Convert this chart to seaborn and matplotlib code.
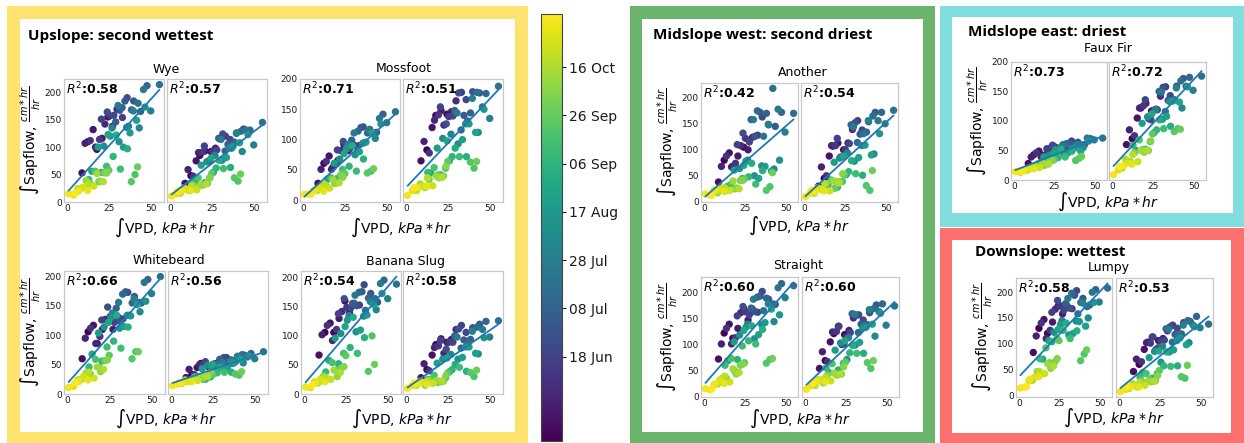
import matplotlib
matplotlib.use("Agg")
import matplotlib.pyplot as plt
import matplotlib.dates as mdates
from matplotlib.colors import Normalize
from matplotlib.cm import ScalarMappable
from matplotlib.patches import Rectangle
import pandas as pd
import seaborn as sns

# ---------------------------------------------------------------- data
YEAR = 2021

# measurement days (month-day)
dates = [
    "05-14", "05-16", "05-19", "05-21", "05-23", "05-26", "05-28", "05-30",
    "06-02", "06-04", "06-06", "06-09", "06-11", "06-13", "06-15", "06-18", "06-20", "06-22", "06-25", "06-27", "06-29",
    "07-02", "07-04", "07-06", "07-09", "07-11", "07-13", "07-16", "07-18", "07-20", "07-23", "07-25", "07-27", "07-30",
    "08-01", "08-03", "08-06", "08-08", "08-10", "08-13", "08-15", "08-17", "08-20", "08-22", "08-24", "08-27", "08-29", "08-31",
    "09-03", "09-05", "09-07", "09-10", "09-12", "09-14", "09-17", "09-19", "09-21", "09-24", "09-26", "09-28",
    "10-01", "10-03", "10-05", "10-08", "10-10", "10-12", "10-15", "10-17", "10-19",
    "10-22", "10-24", "10-26", "10-29", "10-31", "11-02", "11-04", "11-07",
]

# daily integrated VPD (kPa*hr), shared by all trees
vpd = [
    12.3, 17.6, 24.2, 8.8, 15.4, 20.7, 26.9, 10.6,
    16.8, 22.4, 29.6, 13.7, 19.2, 25.3, 32.8, 20.3, 27.7, 35.6, 23.8, 31.2, 39.5,
    34.3, 43.6, 28.8, 38.2, 47.4, 32.6, 42.1, 54.8, 36.4, 45.3, 30.2, 49.6, 39.3,
    26.6, 42.8, 35.3, 21.7, 30.8, 46.2, 25.6, 37.3, 18.4, 33.4, 41.2, 24.3, 14.6, 29.1,
    35.8, 20.4, 27.3, 12.8, 31.6, 23.4, 16.6, 40.3, 38.1, 24.7, 18.8, 41.8,
    22.2, 13.6, 23.6, 19.6, 11.2, 17.7, 8.3, 21.4, 12.6,
    6.2, 15.8, 9.6, 3.8, 12.2, 6.8, 0.8, 4.7,
]

# daily integrated sap flow (cm*hr/hr), two sensors per tree
wye_1 = [110, 96, 155, 53, 132, 116, 138, 107,
         100, 142, 169, 112, 114, 157, 154, 151, 158, 190, 164, 167, 184,
         184, 165, 146, 168, 212, 172, 180, 214, 138, 205, 176, 166, 166,
         135, 135, 136, 102, 110, 173, 120, 126, 100, 100, 149, 123, 56, 122,
         97, 54, 83, 41, 60, 65, 56, 50, 37, 58, 37, 64,
         53, 34, 53, 38, 39, 52, 25, 37, 32,
         24, 29, 27, 13, 21, 20, 15, 16]
wye_2 = [48, 85, 92, 34, 75, 93, 98, 59,
         90, 74, 115, 47, 91, 91, 120, 102, 95, 114, 77, 124, 126,
         105, 133, 116, 109, 131, 93, 129, 145, 98, 131, 114, 104, 125,
         85, 92, 99, 73, 76, 123, 54, 101, 67, 81, 108, 80, 37, 76,
         63, 35, 62, 35, 61, 44, 44, 38, 44, 52, 31, 51,
         34, 31, 44, 31, 21, 31, 26, 33, 29,
         16, 22, 23, 15, 21, 21, 11, 20]
mossfoot_1 = [61, 54, 92, 28, 73, 66, 82, 51,
              51, 82, 92, 64, 60, 91, 90, 83, 85, 121, 97, 89, 117,
              120, 112, 99, 111, 142, 114, 111, 146, 95, 135, 111, 128, 116,
              92, 102, 94, 68, 75, 126, 85, 96, 61, 80, 111, 77, 35, 90,
              68, 36, 56, 25, 48, 51, 37, 48, 45, 44, 28, 52,
              42, 24, 38, 28, 25, 34, 16, 29, 26,
              16, 20, 20, 10, 15, 16, 10, 10]
mossfoot_2 = [83, 140, 142, 65, 120, 148, 146, 97,
              132, 124, 164, 78, 141, 138, 178, 154, 139, 166, 126, 177, 179,
              140, 177, 148, 144, 176, 116, 178, 188, 131, 154, 144, 135, 168,
              109, 112, 126, 102, 93, 150, 65, 126, 86, 100, 112, 98, 45, 86,
              72, 42, 72, 46, 72, 53, 54, 53, 63, 64, 42, 64,
              40, 34, 56, 37, 21, 40, 27, 38, 37,
              16, 24, 23, 16, 23, 21, 8, 21]
whitebeard_1 = [106, 86, 127, 60, 117, 110, 110, 95,
                86, 127, 132, 112, 98, 132, 128, 126, 122, 173, 148, 124, 166,
                174, 155, 146, 155, 195, 170, 156, 200, 134, 190, 156, 171, 162,
                138, 140, 134, 114, 112, 158, 130, 133, 104, 115, 152, 122, 68, 134,
                114, 56, 90, 46, 78, 80, 59, 72, 60, 66, 45, 72,
                57, 34, 58, 38, 36, 46, 25, 42, 37,
                24, 27, 30, 13, 24, 21, 11, 19]
whitebeard_2 = [33, 52, 48, 28, 45, 51, 52, 42,
                50, 46, 57, 33, 51, 51, 62, 55, 50, 58, 45, 62, 64,
                55, 66, 59, 55, 69, 47, 67, 72, 52, 63, 54, 60, 64,
                50, 53, 56, 49, 46, 65, 38, 53, 43, 45, 59, 50, 30, 45,
                37, 25, 36, 25, 37, 29, 28, 32, 34, 33, 25, 38,
                32, 28, 37, 29, 23, 29, 24, 30, 25,
                18, 23, 21, 17, 21, 19, 14, 19]
banana_1 = [106, 106, 160, 67, 122, 130, 140, 102,
            92, 142, 156, 118, 111, 149, 153, 138, 148, 188, 164, 152, 173,
            176, 158, 156, 165, 196, 175, 164, 189, 144, 190, 170, 164, 159,
            135, 145, 134, 104, 107, 173, 127, 136, 96, 110, 154, 116, 58, 132,
            97, 52, 80, 38, 70, 70, 54, 100, 39, 66, 41, 51,
            45, 26, 47, 30, 30, 41, 19, 37, 29,
            21, 25, 25, 11, 21, 19, 12, 15]
banana_2 = [42, 85, 89, 28, 67, 95, 94, 52,
            80, 70, 111, 40, 83, 89, 118, 92, 89, 106, 77, 112, 114,
            93, 120, 100, 94, 125, 79, 115, 126, 88, 111, 98, 98, 108,
            68, 69, 81, 60, 60, 97, 38, 81, 53, 63, 70, 62, 25, 51,
            39, 21, 42, 25, 46, 28, 32, 30, 37, 36, 20, 41,
            22, 24, 32, 22, 15, 23, 22, 22, 22,
            15, 18, 20, 15, 17, 18, 10, 19]
another_1 = [80, 68, 105, 38, 94, 88, 100, 68,
             67, 108, 124, 88, 74, 122, 128, 110, 115, 163, 132, 126, 148,
             172, 145, 158, 170, 172, 175, 218, 170, 126, 178, 158, 134, 149,
             80, 63, 69, 64, 50, 80, 78, 68, 61, 45, 59, 70, 30, 74,
             60, 26, 48, 21, 34, 45, 34, 29, 22, 44, 25, 56,
             41, 22, 41, 26, 26, 40, 17, 25, 27,
             22, 22, 25, 13, 20, 22, 15, 13]
another_2 = [45, 107, 100, 30, 88, 113, 113, 67,
             108, 86, 139, 50, 108, 100, 156, 122, 112, 138, 87, 152, 154,
             130, 172, 148, 134, 172, 114, 165, 176, 131, 156, 144, 150, 156,
             94, 92, 108, 84, 78, 131, 52, 109, 76, 85, 90, 88, 33, 79,
             51, 28, 58, 34, 54, 39, 42, 22, 31, 52, 26, 60,
             39, 34, 54, 39, 23, 40, 27, 36, 35,
             16, 21, 25, 17, 21, 20, 10, 22]
straight_1 = [123, 113, 170, 73, 140, 132, 148, 102,
              102, 162, 169, 132, 114, 164, 163, 156, 158, 203, 174, 164, 188,
              194, 178, 171, 190, 218, 192, 179, 214, 166, 210, 188, 191, 179,
              140, 145, 139, 119, 112, 158, 134, 143, 106, 120, 169, 128, 70, 137,
              130, 72, 108, 61, 102, 98, 74, 72, 65, 66, 50, 74,
              61, 36, 63, 44, 36, 54, 25, 47, 40,
              24, 29, 33, 14, 26, 25, 16, 15]
straight_2 = [70, 122, 120, 55, 106, 136, 128, 87,
              125, 101, 152, 68, 126, 115, 158, 136, 124, 148, 102, 157, 162,
              140, 177, 160, 139, 179, 124, 170, 175, 138, 164, 159, 138, 168,
              114, 117, 133, 104, 100, 161, 72, 134, 90, 105, 140, 108, 47, 99,
              84, 52, 85, 56, 84, 65, 64, 55, 66, 67, 44, 70,
              44, 42, 58, 42, 27, 46, 33, 44, 38,
              22, 31, 33, 22, 29, 30, 15, 27]
fauxfir_1 = [43, 42, 57, 28, 49, 46, 54, 39,
             39, 54, 56, 46, 42, 56, 55, 53, 53, 66, 59, 55, 64,
             62, 60, 54, 59, 70, 62, 59, 71, 53, 71, 60, 68, 60,
             52, 55, 53, 42, 45, 66, 51, 54, 39, 46, 49, 45, 27, 52,
             49, 28, 38, 23, 39, 35, 29, 37, 33, 34, 25, 40,
             32, 23, 33, 26, 21, 29, 17, 27, 23,
             16, 21, 20, 13, 19, 17, 14, 14]
fauxfir_2 = [70, 122, 117, 60, 105, 130, 120, 85,
             122, 104, 142, 75, 126, 118, 158, 136, 119, 143, 102, 157, 159,
             135, 172, 150, 136, 174, 116, 168, 176, 134, 159, 149, 152, 156,
             119, 122, 133, 107, 103, 158, 80, 134, 96, 108, 132, 112, 50, 102,
             91, 52, 85, 59, 87, 65, 68, 87, 82, 78, 52, 86,
             50, 46, 66, 47, 31, 50, 35, 50, 43,
             20, 31, 29, 17, 27, 24, 9, 23]
lumpy_1 = [130, 120, 173, 83, 147, 142, 158, 115,
           110, 167, 174, 140, 126, 174, 168, 161, 165, 203, 184, 169, 188,
           194, 175, 178, 180, 205, 198, 172, 208, 158, 200, 188, 181, 179,
           145, 150, 144, 122, 117, 180, 137, 143, 106, 120, 134, 128, 70, 140,
           125, 104, 126, 71, 110, 110, 92, 80, 67, 106, 63, 88,
           65, 41, 71, 52, 46, 61, 29, 57, 46,
           29, 42, 35, 16, 36, 31, 14, 17]
lumpy_2 = [60, 103, 106, 46, 89, 113, 110, 70,
           102, 88, 125, 65, 101, 105, 136, 113, 107, 130, 92, 133, 141,
           118, 143, 129, 119, 153, 103, 145, 138, 118, 136, 128, 131, 136,
           95, 102, 106, 85, 84, 133, 64, 111, 73, 88, 98, 86, 44, 84,
           57, 33, 57, 35, 56, 42, 42, 33, 36, 48, 30, 58,
           28, 28, 38, 26, 16, 27, 22, 27, 24,
           13, 19, 18, 11, 16, 17, 7, 16]

# fit quality of each sensor
r2_wye = ["0.58", "0.57"]
r2_mossfoot = ["0.71", "0.51"]
r2_whitebeard = ["0.66", "0.56"]
r2_banana = ["0.54", "0.58"]
r2_another = ["0.42", "0.54"]
r2_straight = ["0.60", "0.60"]
r2_fauxfir = ["0.73", "0.72"]
r2_lumpy = ["0.58", "0.53"]

colorbar_ticks = ["06-18", "07-08", "07-28", "08-17", "09-06", "09-26", "10-16"]

# ---------------------------------------------------------------- style
sns.set_style("white")
plt.rcParams["font.family"] = ["DejaVu Sans"]
plt.rcParams["mathtext.fontset"] = "dejavusans"
plt.rcParams["text.color"] = "black"

W, H = 1244, 443
fig = plt.figure(figsize=(W / 100, H / 100), dpi=100)


def rect(x0, y0, x1, y1):
    """Pixel box (top-left origin) -> figure fraction [l, b, w, h]."""
    return [x0 / W, 1 - y1 / H, (x1 - x0) / W, (y1 - y0) / H]


def frame(outer, inner, color):
    for box, fc, z in ((outer, color, -3), (inner, "white", -2)):
        l, b, w, h = rect(*box)
        fig.add_artist(Rectangle((l, b), w, h, transform=fig.transFigure,
                                 facecolor=fc, edgecolor="none", zorder=z))


frame((7, 6, 528, 443), (20, 19, 515, 432), "#fee36e")
frame((630, 6, 935, 443), (642, 19, 923, 432), "#6ab46b")
frame((940, 6, 1244, 227), (952, 17, 1233, 213), "#80dede")
frame((940, 228, 1244, 443), (952, 240, 1231, 433), "#fe6f6f")

section_font = dict(family=["Open Sans", "DejaVu Sans"], weight="bold", fontsize=11,
                    ha="left", va="center", color="black")
for text, x, y in (("Upslope: second wettest", 28, 36),
                   ("Midslope west: second driest", 653, 35),
                   ("Midslope east: driest", 968, 32),
                   ("Downslope: wettest", 975, 252)):
    fig.text(x / W, 1 - y / H, text, **section_font)

day_num = mdates.date2num(pd.to_datetime([f"{YEAR}-{d}" for d in dates]))
norm = Normalize(day_num.min(), day_num.max())
base = pd.DataFrame({"vpd": vpd, "day": day_num})

YLABEL = r"$\int$Sapflow, $\frac{cm*hr}{hr}$"
XLABEL = r"$\int$VPD, $kPa*hr$"


def style_axes(ax):
    ax.set_xlabel("")
    ax.set_ylabel("")
    ax.set_xticks([0, 25, 50])
    ax.set_yticks([0, 50, 100, 150, 200])
    ax.tick_params(labelsize=6.5, length=0, pad=1.5, colors="#1a1a1a")
    for sp in ax.spines.values():
        sp.set_color("#c8c8c8")
        sp.set_linewidth(0.9)


def draw_sensor(ax, flow, r2):
    df = base.assign(flow=flow)
    sns.scatterplot(data=df, x="vpd", y="flow", hue="day", palette="viridis",
                    hue_norm=(norm.vmin, norm.vmax), s=28, linewidth=0,
                    legend=False, ax=ax, zorder=2)
    sns.regplot(data=df, x="vpd", y="flow", scatter=False, ci=None,
                color="#1f77b4", line_kws={"lw": 1.3, "zorder": 3}, ax=ax)
    ax.text(0.02, 0.985, r"$R^2$:" + r2, transform=ax.transAxes, ha="left",
            va="top", fontsize=9, fontweight="bold", color="black")
    style_axes(ax)


def draw_tree(name, left_box, right_box, title_xy, label_y, flows, r2s, ylabel):
    ax_l = fig.add_axes(rect(*left_box))
    ax_r = fig.add_axes(rect(*right_box), sharey=ax_l)
    draw_sensor(ax_l, flows[0], r2s[0])
    draw_sensor(ax_r, flows[1], r2s[1])
    ax_r.tick_params(labelleft=False)
    if ylabel:
        ax_l.set_ylabel(YLABEL, fontsize=10, labelpad=1, color="black")
    tx, ty = title_xy
    fig.text(tx / W, 1 - ty / H, name, ha="center", va="center", fontsize=9)
    cx = (left_box[0] + right_box[2]) / 2
    fig.text(cx / W, 1 - label_y / H, XLABEL, ha="center", va="center", fontsize=10)


draw_tree("Wye", (64, 79, 164, 202), (167, 79, 267, 202), (166, 69), 228,
          (wye_1, wye_2), r2_wye, True)
draw_tree("Mossfoot", (300, 79, 400, 202), (403, 79, 503, 202), (404, 68), 228,
          (mossfoot_1, mossfoot_2), r2_mossfoot, False)
draw_tree("Whitebeard", (64, 271, 165, 394), (168, 271, 268, 394), (169, 260), 419,
          (whitebeard_1, whitebeard_2), r2_whitebeard, True)
draw_tree("Banana Slug", (301, 271, 401, 394), (403, 271, 503, 394), (405, 261), 419,
          (banana_1, banana_2), r2_banana, False)
draw_tree("Another", (701, 83, 798, 202), (801, 83, 898, 202), (803, 72), 226,
          (another_1, another_2), r2_another, True)
draw_tree("Straight", (701, 277, 798, 397), (802, 277, 899, 397), (798, 266), 419,
          (straight_1, straight_2), r2_straight, True)
draw_tree("Faux Fir", (1011, 62, 1107, 180), (1109, 62, 1206, 180), (1108, 48), 202,
          (fauxfir_1, fauxfir_2), r2_fauxfir, True)
draw_tree("Lumpy", (1016, 278, 1112, 397), (1116, 278, 1213, 397), (1109, 267), 418,
          (lumpy_1, lumpy_2), r2_lumpy, True)

# shared date colour scale
cax = fig.add_axes(rect(541, 14, 562, 441))
cb = fig.colorbar(ScalarMappable(norm=norm, cmap="viridis"), cax=cax)
tick_days = pd.to_datetime([f"{YEAR}-{d}" for d in colorbar_ticks])
cb.set_ticks(mdates.date2num(tick_days))
cb.set_ticklabels([d.strftime("%d %b") for d in tick_days])
cb.ax.tick_params(labelsize=10, length=3, width=0.8, pad=2, colors="#1a1a1a")
cb.outline.set_edgecolor("#444444")
cb.outline.set_linewidth(0.8)

fig.savefig("out.png", dpi=100)
